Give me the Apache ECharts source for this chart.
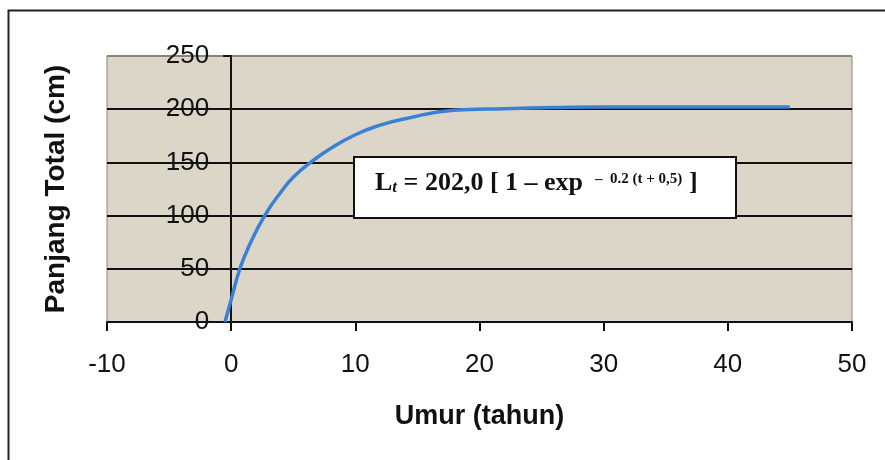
<!DOCTYPE html>
<html><head><meta charset="utf-8">
<script src="https://cdn.jsdelivr.net/npm/echarts@6/dist/echarts.min.js"></script>
<style>html,body{margin:0;padding:0;background:#fff}#c{width:885px;height:460px}</style>
</head><body><div id="c"></div>
<script>
// Age (years) and total length (cm)
const umur =    [-0.5, 0,  0.7, 1.5, 2.7, 4,   5,   6.4, 8,   10,  12,  14,  17.9, 22,    26,    30,  35,  40,  45];
const panjang = [0,    21, 50,  73,  100, 122, 136, 150, 163, 176, 185, 191, 199,  200.5, 201.5, 202, 202, 202, 202];
const xTicks = [-10, 0, 10, 20, 30, 40, 50];
const yTicks = [0, 50, 100, 150, 200, 250];

const GL = 107, GR = 33, GW = 885 - GL - GR;
const xSpan = xTicks[xTicks.length-1] - xTicks[0];
const zeroOffset = (0 - xTicks[0]) / xSpan * GW; // distance from grid left to x=0 axis

const bold = { fontFamily: 'Liberation Serif', fontWeight: 'bold', fill: '#111' };
const chart = echarts.init(document.getElementById('c'));
chart.setOption({
  animation: false,
  backgroundColor: '#fff',
  grid: { left: GL, top: 56, right: GR, bottom: 138, show: true, containLabel: false, outerBoundsMode: 'none',
          backgroundColor: '#dcd6c9', borderColor: '#8a8478', borderWidth: 1 },
  xAxis: {
    type: 'value', min: xTicks[0], max: xTicks[xTicks.length-1], interval: 10,
    name: 'Umur (tahun)', nameLocation: 'middle', nameGap: 81,
    nameTextStyle: { fontFamily: 'Liberation Sans', fontWeight: 'bold', fontSize: 27, color: '#111' },
    axisLine: { onZero: true, lineStyle: { color: '#111', width: 2 } },
    axisTick: { show: true, length: 9, lineStyle: { color: '#111', width: 2 } },
    axisLabel: { margin: 30, fontFamily: 'Liberation Sans', fontSize: 26, color: '#111' },
    splitLine: { show: false }
  },
  yAxis: {
    type: 'value', min: yTicks[0], max: yTicks[yTicks.length-1], interval: 50,
    name: 'Panjang Total (cm)', nameLocation: 'middle', nameGap: 37, nameRotate: 90,
    nameTextStyle: { fontFamily: 'Liberation Sans', fontWeight: 'bold', fontSize: 28, color: '#111' },
    axisLine: { show: true, onZero: true, lineStyle: { color: '#111', width: 2 } },
    axisTick: { show: true, length: 8, lineStyle: { color: '#111', width: 2 } },
    axisLabel: { margin: 22 - zeroOffset, fontFamily: 'Liberation Sans', fontSize: 26, color: '#111' },
    splitLine: { show: true, lineStyle: { color: ['#111','#111','#111','#111','#111','#8a8478'], width: 2 } }
  },
  series: [{
    type: 'line', smooth: true, showSymbol: false,
    data: umur.map((t, i) => [t, panjang[i]]),
    lineStyle: { color: '#3a80d6', width: 3.5 }, z: 3
  }],
  graphic: [
    { type: 'rect', left: 6, top: 8, shape: { width: 900, height: 470 },
      style: { fill: 'none', stroke: '#222', lineWidth: 2 }, z: -1 },
    { type: 'rect', left: 353, top: 156, shape: { width: 382, height: 61 },
      style: { fill: '#fff', stroke: '#111', lineWidth: 2 }, z: 10 },
    { type: 'text', left: 375, top: 170, z: 11,
      style: {
        text: '{b|L}{s|t}{b| = 202,0 [ 1 – exp}',
        rich: {
          b: Object.assign({ fontSize: 26, verticalAlign: 'bottom' }, bold),
          s: Object.assign({ fontSize: 17, fontStyle: 'italic', verticalAlign: 'bottom' }, bold)
        }
      } },
    { type: 'text', left: 595, top: 172, z: 11,
      style: Object.assign({ text: '–  0.2 (t + 0,5)', fontSize: 15 }, bold) },
    { type: 'text', left: 689, top: 170, z: 11,
      style: Object.assign({ text: ']', fontSize: 26 }, bold) }
  ]
});
</script></body></html>
